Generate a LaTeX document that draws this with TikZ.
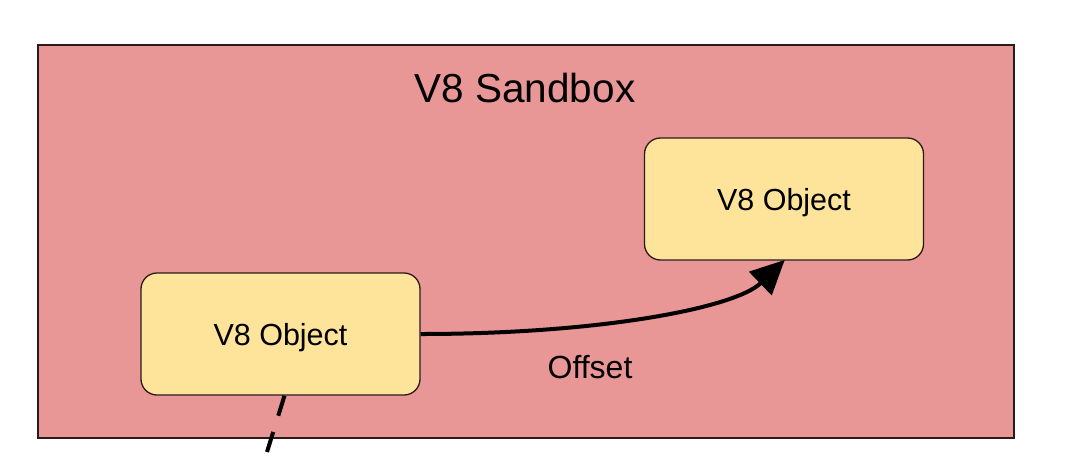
\documentclass[tikz,border=0pt]{standalone}
\usepackage{fontspec}
\setmainfont{Liberation Sans}
\usetikzlibrary{arrows.meta}
\definecolor{sandred}{HTML}{E99696}
\definecolor{objyellow}{HTML}{FDE49A}
\definecolor{edgedark}{HTML}{2A1A1A}
\begin{document}
\begin{tikzpicture}[x=1pt,y=-1pt,
  objbox/.style={draw=edgedark, line width=1.3pt, fill=objyellow, rounded corners=16pt,
    minimum width=279pt, minimum height=122pt, inner sep=0pt, text depth=0pt,
    font=\fontsize{30.5}{36}\selectfont},
  link/.style={line width=4pt, draw=black}]
\useasboundingbox (0,0) rectangle (1080,459);
\fill[white] (0,0) rectangle (1080,459);
\node[draw=edgedark, line width=1.5pt, fill=sandred, minimum width=976pt, minimum height=393pt, inner sep=0pt, anchor=north west] (sb) at (37,44) {};
\node[font=\fontsize{40.5}{48}\selectfont] (title) at (525,88) {V8 Sandbox};
\node[objbox] (lb) at (280.5,334) {V8 Object};
\node[objbox] (rb) at (784,199) {V8 Object};
\node[font=\fontsize{32}{38}\selectfont] (off) at (590,367) {Offset};
\draw[link, -{Triangle[length=34pt,width=32pt]}, shorten >=-1pt] (lb.east) .. controls (600,334) and (735,308) .. (rb.south);
\coordinate (tail) at (267,452);
\draw[line width=4pt, dash pattern=on 21pt off 17pt] ([xshift=4pt]lb.south) -- (tail);
\end{tikzpicture}
\end{document}
